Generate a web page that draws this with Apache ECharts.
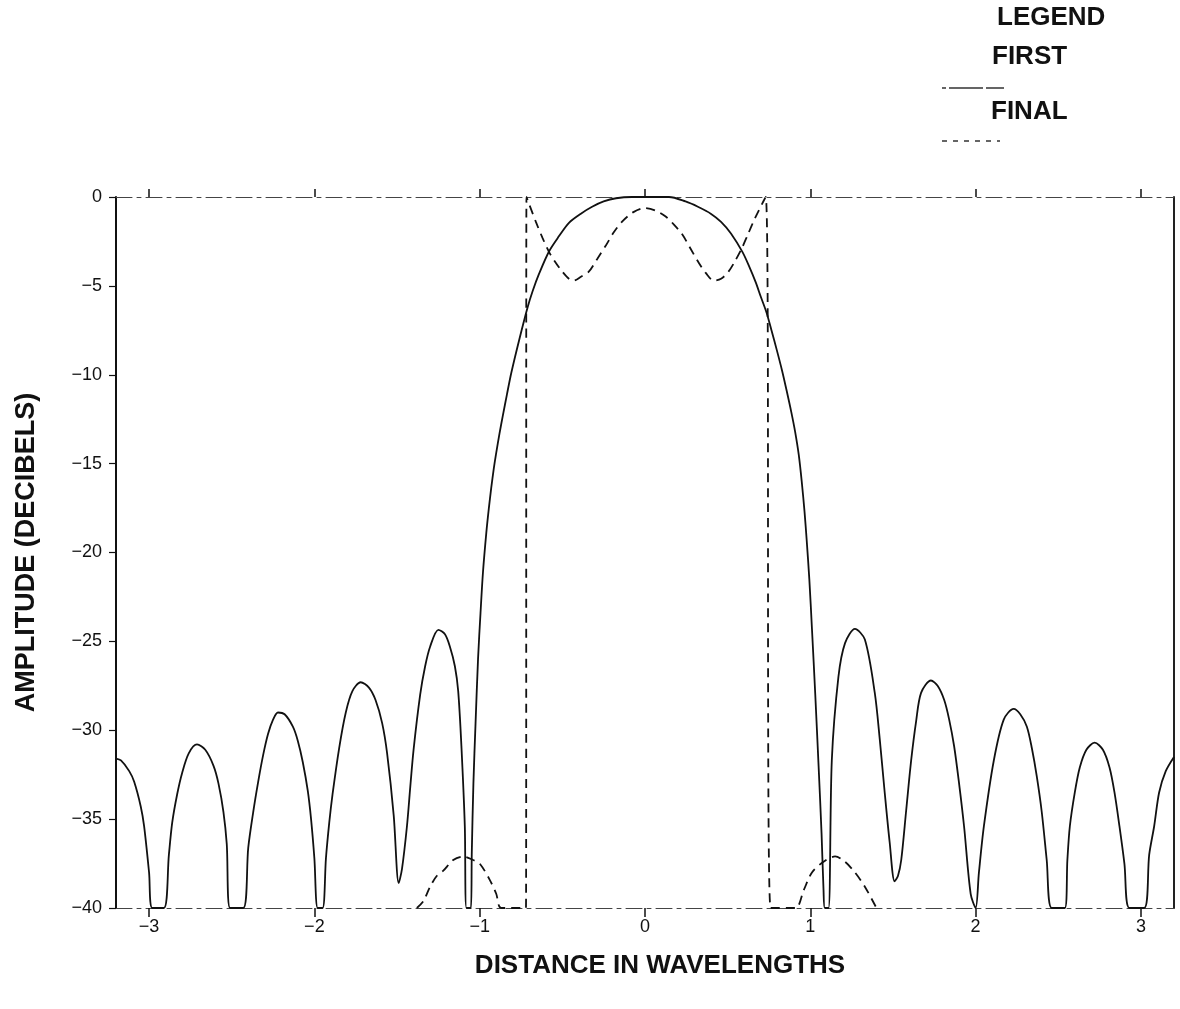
<!DOCTYPE html>
<html>
<head>
<meta charset="utf-8">
<script src="https://cdn.jsdelivr.net/npm/echarts@6/dist/echarts.min.js"></script>
<style>
html,body{margin:0;padding:0;background:#fff;}
#chart{width:1180px;height:1009px;}
</style>
</head>
<body>
<div id="chart"></div>
<script>
// ---- data ----
const xTicks = [-3, -2, -1, 0, 1, 2, 3];
const yTicks = [0, -5, -10, -15, -20, -25, -30, -35, -40];

// FIRST (solid) pattern
const firstX = [
  -3.20, -3.17, -3.12, -3.09, -3.05, -3.03, -3.00, -2.98, -2.91, -2.88, -2.86, -2.83, -2.80, -2.76, -2.71,
  -2.66, -2.61, -2.58, -2.55, -2.53, -2.51, -2.43, -2.40, -2.37, -2.34, -2.31, -2.28, -2.25, -2.22, -2.18,
  -2.13, -2.10, -2.07, -2.04, -2.02, -2.00, -1.98, -1.95, -1.93, -1.91, -1.89, -1.85, -1.81, -1.77, -1.72,
  -1.67, -1.63, -1.59, -1.56, -1.52, -1.49, -1.47, -1.44, -1.42, -1.40, -1.36, -1.33, -1.30, -1.25, -1.21,
  -1.18, -1.15, -1.13, -1.11, -1.09, -1.08,
  -1.053, -1.048, -1.038, -1.025, -1.01, -0.995, -0.98, -0.96, -0.945, -0.93, -0.915, -0.90, -0.88, -0.86,
  -0.835, -0.809, -0.76, -0.71, -0.68, -0.64, -0.58, -0.52, -0.46, -0.39, -0.32, -0.25, -0.175, -0.08, 0.03,
  0.145, 0.245, 0.32, 0.40, 0.46, 0.52, 0.59, 0.63, 0.67, 0.70, 0.735, 0.765, 0.797, 0.83, 0.857,
  0.885, 0.908, 0.93, 0.948, 0.965, 0.978, 0.994, 1.01, 1.03, 1.05, 1.068, 1.08, 1.088,
  1.11, 1.13, 1.17, 1.21, 1.27, 1.33, 1.39, 1.42, 1.45,
  1.48, 1.51, 1.53, 1.55, 1.58, 1.61, 1.64, 1.67, 1.73, 1.77, 1.81, 1.84, 1.87, 1.90, 1.93,
  1.97, 2.00, 2.02, 2.05, 2.11, 2.17, 2.23, 2.27, 2.31, 2.34, 2.37, 2.40, 2.43, 2.46, 2.54,
  2.555, 2.57, 2.60, 2.63, 2.67, 2.72, 2.77, 2.81, 2.84, 2.87, 2.90, 2.93, 3.02, 3.05, 3.08, 3.11,
  3.15, 3.20
];
const firstY = [
  -31.6, -31.7, -32.3, -32.9, -34.3, -35.4, -38.0, -40, -40, -37.0, -35.2, -33.6, -32.4, -31.3, -30.8,
  -31.1, -32.0, -33.0, -34.6, -36.4, -40, -40, -36.6, -34.6, -32.9, -31.4, -30.2, -29.4, -29.0, -29.1,
  -29.8, -30.6, -31.8, -33.4, -35.0, -37.2, -40, -40, -37.2, -35.2, -33.6, -31.0, -29.0, -27.8, -27.3,
  -27.6, -28.3, -29.6, -31.3, -34.8, -38.6, -37.8, -35.4, -33.2, -31.1, -28.0, -26.4, -25.3, -24.35, -24.6,
  -25.3, -26.4, -27.8, -31.0, -35.4, -40,
  -40, -37.0, -33.0, -29.6, -26.0, -23.4, -21.1, -18.9, -17.55, -16.35, -15.3, -14.4, -13.3, -12.3,
  -11.1, -9.9, -8.0, -6.2, -5.3, -4.3, -3.05, -2.2, -1.45, -0.95, -0.55, -0.25, -0.07, 0, 0,
  0, -0.25, -0.55, -0.95, -1.4, -2.05, -3.1, -3.9, -4.8, -5.6, -6.5, -7.5, -8.6, -9.8, -10.9,
  -12.1, -13.2, -14.5, -16.0, -17.7, -19.3, -21.5, -24.3, -28.0, -32.0, -35.8, -39.0, -40,
  -40, -31.7, -27.0, -25.1, -24.3, -24.9, -27.9, -30.5, -33.5,
  -36.3, -38.5, -38.2, -37.3, -34.5, -31.7, -29.5, -27.9, -27.2, -27.5, -28.3, -29.4, -30.9, -33.0, -35.4,
  -39.2, -40, -38.0, -35.4, -31.7, -29.4, -28.8, -29.1, -29.8, -31.0, -32.6, -34.6, -37.3, -40, -40,
  -37.3, -35.4, -33.5, -32.1, -31.1, -30.7, -31.1, -32.1, -33.5, -35.4, -37.5, -40, -40, -37.0, -35.4, -33.5,
  -32.3, -31.5
];

// FINAL (dashed) pattern
const finalX = [
  -1.38, -1.34, -1.30, -1.26, -1.22, -1.16, -1.10, -1.04, -1.00, -0.94, -0.90, -0.87, -0.72, -0.717,
  -0.66, -0.62, -0.58, -0.54, -0.50, -0.46, -0.43, -0.39, -0.34, -0.29, -0.235, -0.19, -0.14, -0.07, 0.0,
  0.06, 0.125, 0.175, 0.225, 0.275, 0.325, 0.37, 0.415, 0.46, 0.505, 0.545, 0.585, 0.625, 0.665, 0.73,
  0.76, 0.91, 0.96, 1.01, 1.08, 1.15, 1.21, 1.27, 1.33, 1.40
];
const finalY = [
  -40, -39.6, -38.8, -38.2, -37.9, -37.3, -37.1, -37.3, -37.5, -38.4, -39.2, -40, -40, 0,
  -1.4, -2.3, -3.1, -3.7, -4.2, -4.6, -4.7, -4.5, -4.2, -3.5, -2.7, -2.0, -1.4, -0.85, -0.62,
  -0.75, -1.1, -1.55, -2.1, -2.9, -3.7, -4.3, -4.7, -4.6, -4.2, -3.6, -2.9, -2.05, -1.2, 0,
  -40, -40, -39.0, -38.0, -37.4, -37.1, -37.4, -38.0, -38.8, -40
];

const firstData = firstX.map((x, i) => [x, firstY[i]]);
const finalData = finalX.map((x, i) => [x, finalY[i]]);

const FONT = '"Liberation Sans", Arial, sans-serif';
const minus = v => (v < 0 ? '\u2212' + Math.abs(v) : String(v));
const frameLine = { color: '#444', width: 1, type: [16, 5, 4, 5] };

const chart = echarts.init(document.getElementById('chart'), null, { renderer: 'canvas' });
chart.setOption({
  backgroundColor: '#fff',
  animation: false,
  grid: { left: 116, right: 6, top: 197, bottom: 101, containLabel: false },
  xAxis: [
    {
      type: 'value', position: 'bottom', min: -3.2, max: 3.2,
      name: 'DISTANCE IN WAVELENGTHS', nameLocation: 'middle', nameGap: 45,
      nameTextStyle: { fontFamily: FONT, fontWeight: 'bold', fontSize: 26, color: '#111', padding: [0, 0, 0, 30] },
      axisLine: { show: true, onZero: false, lineStyle: frameLine },
      axisTick: { show: true, inside: false, length: 9, customValues: xTicks, lineStyle: { color: '#111', width: 1.5 } },
      axisLabel: { show: true, customValues: xTicks, formatter: minus, margin: 10,
        fontFamily: FONT, fontSize: 18, color: '#111' },
      splitLine: { show: false }
    },
    {
      type: 'value', position: 'top', min: -3.2, max: 3.2,
      axisLine: { show: true, onZero: false, lineStyle: frameLine },
      axisTick: { show: true, inside: false, length: 8, customValues: xTicks, lineStyle: { color: '#111', width: 1.5 } },
      axisLabel: { show: false },
      splitLine: { show: false }
    }
  ],
  yAxis: [
    {
      type: 'value', position: 'left', min: -40, max: 0, interval: 5,
      name: 'AMPLITUDE (DECIBELS)', nameLocation: 'middle', nameGap: 76, nameRotate: 90,
      nameTextStyle: { fontFamily: FONT, fontWeight: 'bold', fontSize: 27, color: '#111' },
      axisLine: { show: true, onZero: false, lineStyle: { color: '#111', width: 2 } },
      axisTick: { show: true, inside: false, length: 7, lineStyle: { color: '#111', width: 1.2 } },
      axisLabel: { show: true, formatter: minus, margin: 14, fontFamily: FONT, fontSize: 18, color: '#111' },
      splitLine: { show: false }
    },
    {
      type: 'value', position: 'right', min: -40, max: 0, interval: 5,
      axisLine: { show: true, onZero: false, lineStyle: { color: '#222', width: 2 } },
      axisTick: { show: false },
      axisLabel: { show: false },
      splitLine: { show: false }
    }
  ],
  series: [
    {
      name: 'FIRST', type: 'line', xAxisIndex: 0, yAxisIndex: 0,
      data: firstData, showSymbol: false, symbol: 'none', smooth: 0.3,
      lineStyle: { color: '#111', width: 1.8, type: 'solid' },
      clip: true, z: 3
    },
    {
      name: 'FINAL', type: 'line', xAxisIndex: 0, yAxisIndex: 0,
      data: finalData, showSymbol: false, symbol: 'none', smooth: 0.3,
      lineStyle: { color: '#111', width: 1.8, type: [9, 6] },
      clip: true, z: 4
    }
  ],
  graphic: [
    { type: 'text', left: 997, top: 5, style: { text: 'LEGEND', fontFamily: FONT, fontWeight: 'bold', fontSize: 26, fill: '#111' } },
    { type: 'text', left: 992, top: 44, style: { text: 'FIRST', fontFamily: FONT, fontWeight: 'bold', fontSize: 26, fill: '#111' } },
    { type: 'line', shape: { x1: 942, y1: 88, x2: 1004, y2: 88 }, style: { stroke: '#333', lineWidth: 1.5, lineDash: [4, 3, 30, 0] } },
    { type: 'text', left: 991, top: 99, style: { text: 'FINAL', fontFamily: FONT, fontWeight: 'bold', fontSize: 26, fill: '#111' } },
    { type: 'line', shape: { x1: 942, y1: 141, x2: 1000, y2: 141 }, style: { stroke: '#333', lineWidth: 1.5, lineDash: [5, 6] } }
  ]
});
</script>
</body>
</html>
